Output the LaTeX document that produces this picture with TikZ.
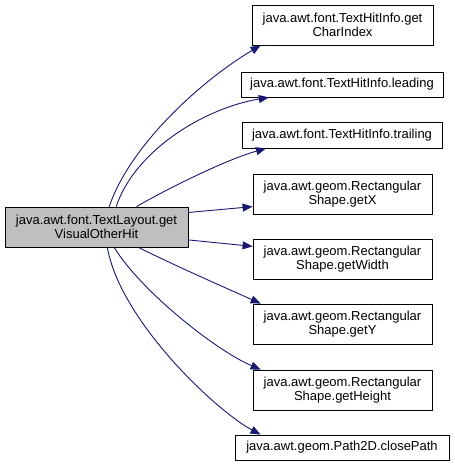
\documentclass[tikz,border=0pt]{standalone}
\usepackage{fontspec}
\setmainfont{Liberation Sans}
\usepackage{xcolor}
\usetikzlibrary{arrows.meta}
\definecolor{callblue}{RGB}{25,25,112}
\definecolor{maingray}{RGB}{191,191,191}

\begin{document}
\begin{tikzpicture}[x=1pt, y=-1pt,
  fn/.style={rectangle, draw=black, fill=white, line width=0.8pt, inner sep=0pt, align=center, font=\fontsize{13}{14}\selectfont},
  mainfn/.style={fn, fill=maingray},
  call/.style={draw=callblue, line width=0.9pt, -{Triangle[length=10pt, width=8pt]}}]
\useasboundingbox (0,0) rectangle (455,467);
% Funcao chamadora
\node[mainfn, minimum width=183pt, minimum height=40pt] (visual) at (96.5,227) {java.awt.font.TextLayout.get\\VisualOtherHit};
% Funcoes chamadas
\node[fn, minimum width=181pt, minimum height=40pt] (charidx) at (342.5,25) {java.awt.font.TextHitInfo.get\\CharIndex};
\node[fn, minimum width=202pt, minimum height=25pt] (leading) at (342,84.5) {java.awt.font.TextHitInfo.leading};
\node[fn, minimum width=200pt, minimum height=26pt] (trailing) at (342,135) {java.awt.font.TextHitInfo.trailing};
\node[fn, minimum width=179pt, minimum height=40pt] (getx) at (342.5,194) {java.awt.geom.Rectangular\\Shape.getX};
\node[fn, minimum width=179pt, minimum height=40pt] (getwidth) at (342.5,259) {java.awt.geom.Rectangular\\Shape.getWidth};
\node[fn, minimum width=179pt, minimum height=40pt] (gety) at (342.5,324) {java.awt.geom.Rectangular\\Shape.getY};
\node[fn, minimum width=179pt, minimum height=40pt] (getheight) at (342.5,390) {java.awt.geom.Rectangular\\Shape.getHeight};
\node[fn, minimum width=214pt, minimum height=25pt] (closepath) at (342,447.5) {java.awt.geom.Path2D.closePath};
% Chamadas
\draw[call] (visual.58) .. controls (130,145) and (202,80) .. (charidx.194);
\draw[call] (visual.46) .. controls (135,150) and (205,108) .. (leading.190);
\draw[call] (visual.27) .. controls (165,190) and (225,160) .. (trailing.190);
\draw[call] (visual.9) -- (getx.188);
\draw[call] (visual.352) -- (getwidth.172);
\draw[call] (visual.334) .. controls (180,268) and (235,292) .. (gety.166);
\draw[call] (visual.311) .. controls (140,290) and (215,350) .. (getheight.166);
\draw[call] (visual.298) .. controls (120,320) and (215,410) .. (closepath.171);
\end{tikzpicture}
\end{document}
